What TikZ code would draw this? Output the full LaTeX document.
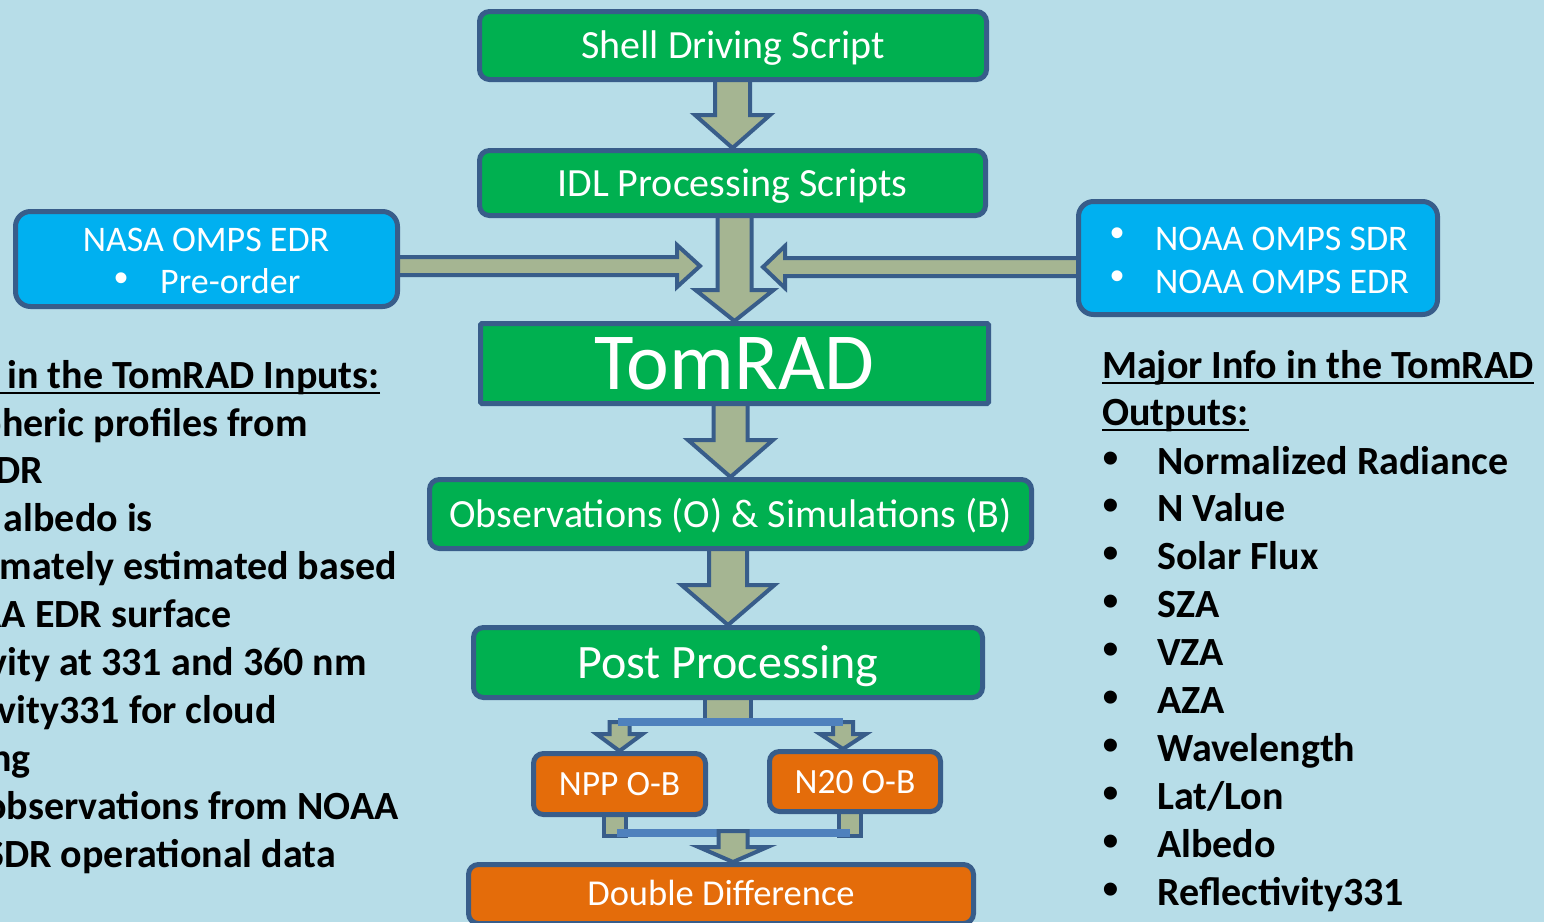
\documentclass[tikz,border=0pt]{standalone}
\usepackage{fontspec}
\setmainfont{Carlito}
\newfontfamily\bulfont{Liberation Sans}
\usetikzlibrary{calc}
\pgfdeclarelayer{back}
\pgfdeclarelayer{arrows}
\pgfsetlayers{back,arrows,main}
\definecolor{bg}{HTML}{B7DDE8}
\definecolor{grn}{HTML}{00B050}
\definecolor{cyanbox}{HTML}{00B0F0}
\definecolor{orng}{HTML}{E46C0A}
\definecolor{bord}{HTML}{385D8A}
\definecolor{afill}{HTML}{A5B592}
\definecolor{lblue}{HTML}{4F81BD}
\newcommand\fsz[1]{\fontsize{#1}{#1}\selectfont}
% vertical block arrow: start (#1, y only), tip (#2), shaft half, head half, head length
\newcommand\vblock[5]{%
  \draw[barrow] let \p1=(#1), \p2=(#2) in
  (\x2-#3,\y1) -- (\x2-#3,\y2+#5) -- (\x2-#4,\y2+#5) -- (\x2,\y2)
  -- (\x2+#4,\y2+#5) -- (\x2+#3,\y2+#5) -- (\x2+#3,\y1) -- cycle;}
% right-pointing block arrow
\newcommand\rblock[5]{%
  \draw[barrow] let \p1=(#1), \p2=(#2) in
  (\x1,\y2+#3) -- (\x2-#5,\y2+#3) -- (\x2-#5,\y2+#4) -- (\x2,\y2)
  -- (\x2-#5,\y2-#4) -- (\x2-#5,\y2-#3) -- (\x1,\y2-#3) -- cycle;}
% left-pointing block arrow
\newcommand\lblock[5]{%
  \draw[barrow] let \p1=(#1), \p2=(#2) in
  (\x1,\y2+#3) -- (\x2+#5,\y2+#3) -- (\x2+#5,\y2+#4) -- (\x2,\y2)
  -- (\x2+#5,\y2-#4) -- (\x2+#5,\y2-#3) -- (\x1,\y2-#3) -- cycle;}
\tikzset{
  box/.style={draw=bord, line width=5pt, rounded corners=10pt, text=white, inner sep=0pt, text depth=0pt},
  gbox/.style={box, fill=grn},
  cbox/.style={box, fill=cyanbox, rounded corners=15pt},
  obox/.style={box, fill=orng},
  barrow/.style={draw=bord, fill=afill, line width=4pt, line join=miter, miter limit=10},
  hline/.style={draw=lblue, line width=8pt},
  info/.style={font=\bfseries\fsz{40}, inner sep=0pt, text=black, anchor=base east},
  infor/.style={font=\bfseries\fsz{40}, inner sep=0pt, text=black, anchor=base west},
  bul/.style={font=\bulfont\fsz{48}, inner sep=0pt, anchor=base, text=black},
  wbul/.style={font=\bulfont\fsz{40}, inner sep=0pt, anchor=base, text=white},
  wtxt/.style={font=\fsz{36}, inner sep=0pt, text=white},
  uline/.style={draw=black, line width=2.5pt},
}
\begin{document}
\begin{tikzpicture}[x=1pt,y=-1pt]
\begin{pgfonlayer}{back}
\fill[bg] (0,0) rectangle (1544,922);
\end{pgfonlayer}
\useasboundingbox (0,0) rectangle (1544,922);

% central boxes
\node[gbox, minimum width=507pt, minimum height=68pt, font=\fsz{40}, text height=26pt] (shell) at (733,45.5) {Shell Driving Script};
\node[gbox, minimum width=506pt, minimum height=65pt, font=\fsz{40}, text height=26pt] (idl) at (732.5,183) {IDL Processing Scripts};
\node[gbox, rounded corners=1.5pt, minimum width=508pt, minimum height=80pt, font=\fsz{81}, text height=52pt] (tomrad) at (734.5,363.5) {TomRAD};
\node[gbox, minimum width=602pt, minimum height=69pt, font=\fsz{40}, text height=26pt] (obs) at (730.5,514) {Observations (O) \& Simulations (B)};
\node[gbox, minimum width=509pt, minimum height=70pt, font=\fsz{48}, text height=31pt] (post) at (728,662.5) {Post Processing};
\node[obox, minimum width=172pt, minimum height=61pt, font=\fsz{35.5}, text height=23pt] (npp) at (619.5,784) {NPP O-B};
\node[obox, minimum width=171pt, minimum height=60pt, font=\fsz{35.5}, text height=23pt] (n20) at (855,781.5) {N20 O-B};
\node[obox, minimum width=505pt, minimum height=59pt, font=\fsz{36.5}, text height=23.5pt] (dd) at (721,894) {Double Difference};

% side boxes
\node[cbox, minimum width=382pt, minimum height=95pt] (nasa) at (206.5,259) {};
\node[wtxt, anchor=base] (nasa1) at (206,251) {NASA OMPS EDR};
\node[wbul] (nasab) at (121,291) {•};
\node[wtxt, anchor=base west] (nasa2) at (160,293) {Pre-order};

\node[cbox, minimum width=359pt, minimum height=113pt] (noaa) at (1258,258) {};
\node[wbul] (noaab1) at (1117,246) {•};
\node[wtxt, anchor=base west] (noaa1) at (1155,250) {NOAA OMPS SDR};
\node[wbul] (noaab2) at (1117,289) {•};
\node[wtxt, anchor=base west] (noaa2) at (1155,293) {NOAA OMPS EDR};

% connector coordinates
\coordinate (ltip) at (700,266);
\coordinate (rtip) at (763,267);
\coordinate (sL) at (618,722);
\coordinate (sR) at (843,722);
\coordinate (t2) at ($(n20.north)+(-12,0)$);
\coordinate (bL) at (617,833);
\coordinate (bR) at (850,833);
\coordinate (bM) at (733,831);
\coordinate (t3) at ($(dd.north)+(12,0)$);

\begin{pgfonlayer}{arrows}
\vblock{shell.center}{idl.north}{17.5pt}{37.5pt}{33pt}
\vblock{idl.center}{tomrad.north}{17pt}{39pt}{31pt}
\vblock{tomrad.center}{obs.north}{17pt}{42.5pt}{37pt}
\vblock{obs.center}{post.north}{19pt}{46.5pt}{40pt}
\rblock{nasa.center}{ltip}{9pt}{21pt}{23pt}
\lblock{noaa.center}{rtip}{9pt}{21pt}{22pt}
% split below post processing
\draw[barrow] ($(post.south)+(-23,-10)$) rectangle ($(post.south)+(23,24)$);
\vblock{sL}{npp.north}{10pt}{23pt}{17pt}
\vblock{sR}{t2}{10pt}{23pt}{15pt}
\draw[hline] (sL) -- (sR);
% merge into double difference
\draw[barrow] ($(npp.south)+(-15.5,-10)$) rectangle ($(npp.south)+(6.5,19)$);
\draw[barrow] ($(n20.south)+(-16,-10)$) rectangle ($(n20.south)+(6,22)$);
\draw[hline] (bL) -- (bR);
\vblock{bM}{t3}{14.5pt}{34.5pt}{15pt}
\end{pgfonlayer}

% right info panel
\node[infor] (oh1) at (1102,378) {Major Info in the TomRAD};
\node[infor] (oh2) at (1102,425) {Outputs:};
\draw[uline] ([yshift=-5pt]oh1.base west) -- ([yshift=-5pt]oh1.base east);
\draw[uline] ([yshift=-5pt]oh2.base west) -- ([yshift=-5pt]oh2.base east);
\foreach \t [count=\i] in {Normalized Radiance, N Value, Solar Flux, SZA, VZA, AZA, Wavelength, Lat/Lon, Albedo, Reflectivity331}{
  \node[infor] (out\i) at (1157,{474+47.9*(\i-1)}) {\t};
  \node[bul] (outb\i) at (1111,{474+47.9*(\i-1)}) {•};
}

% left info panel (cut off by the left edge)
\begin{scope}
\clip (0,0) rectangle (1544,922);
\node[info] (ih) at (380,388) {in the TomRAD Inputs:};
\draw[uline] ([yshift=-5pt]ih.base east) -- ++(-390,0);
\foreach \t/\xr [count=\i] in {pheric profiles from/308, DR/43, albedo is/153, mately estimated based/397, AA EDR surface/232, vity at 331 and 360 nm/367, vity331 for cloud/277, ng/31, observations from NOAA/399, SDR operational data/336}{
  \node[info] (in\i) at (\xr,{436+47.9*(\i-1)}) {\t};
}
\end{scope}
\end{tikzpicture}
\end{document}
